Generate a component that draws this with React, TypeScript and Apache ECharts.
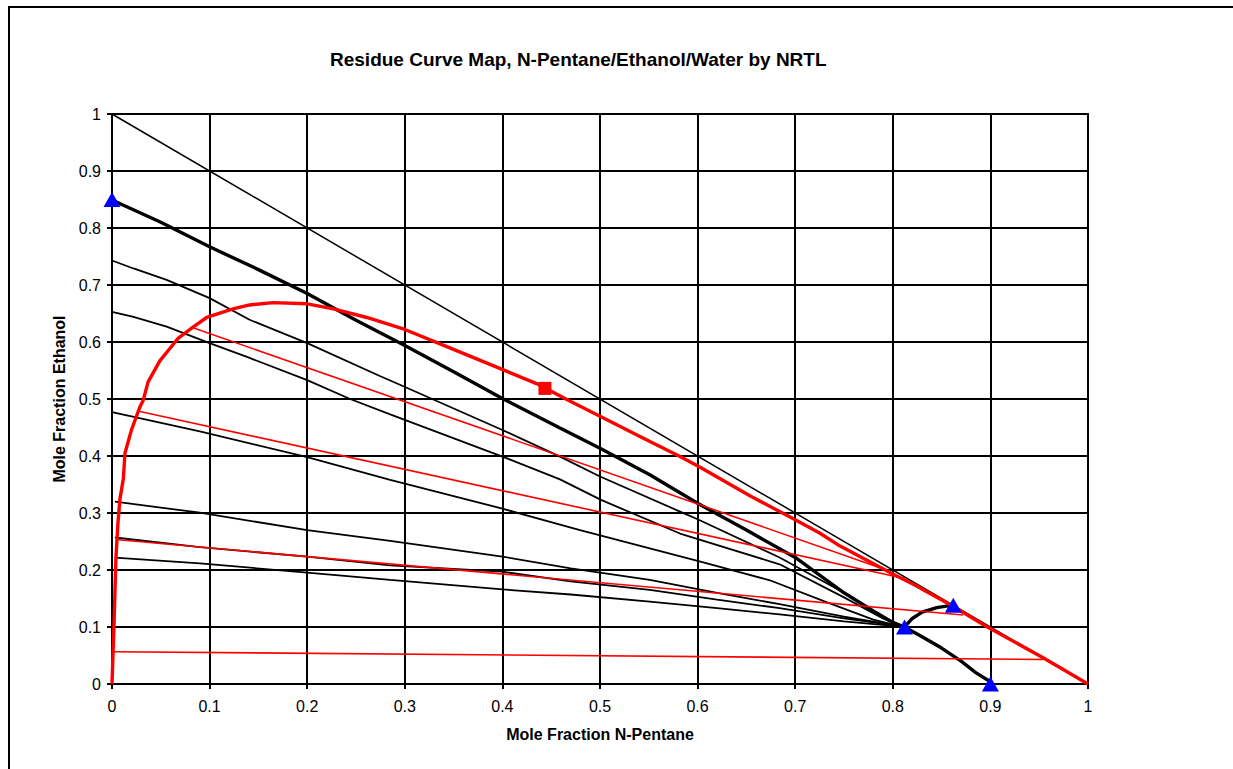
import React, { useEffect, useRef } from "react";
import * as echarts from "echarts";

// ---- Data (mole fractions: x = N-Pentane, y = Ethanol) ----
const triangleEdge: number[][] = [[0, 1], [1, 0]];

const separatrixMain: number[][] = [
  [0, 0.849], [0.05, 0.81], [0.1, 0.767], [0.15, 0.727], [0.2, 0.685], [0.25, 0.638],
  [0.3, 0.594], [0.35, 0.548], [0.4, 0.501], [0.459, 0.449], [0.5, 0.4135], [0.551, 0.367],
  [0.6, 0.317], [0.65, 0.27], [0.7, 0.222], [0.75, 0.16], [0.78, 0.128], [0.8, 0.108],
  [0.812, 0.1], [0.83, 0.083], [0.85, 0.063], [0.87, 0.04], [0.885, 0.02], [0.9, 0.004],
];

const separatrixUpper: number[][] = [
  [0.812, 0.1], [0.82, 0.115], [0.83, 0.126], [0.845, 0.134], [0.86, 0.138],
];

const curveA: number[][] = [
  [0, 0.743], [0.022, 0.729], [0.056, 0.709], [0.1, 0.677], [0.141, 0.639], [0.2, 0.598],
  [0.275, 0.54], [0.295, 0.525], [0.4, 0.4456], [0.459, 0.399], [0.5, 0.364], [0.582, 0.3025],
  [0.6, 0.289], [0.684, 0.222], [0.75, 0.16], [0.79, 0.118], [0.808, 0.102],
];

const curveB: number[][] = [
  [0, 0.653], [0.022, 0.644], [0.056, 0.627], [0.1, 0.598], [0.141, 0.572], [0.2, 0.533],
  [0.244, 0.5], [0.285, 0.473], [0.4, 0.399], [0.459, 0.359], [0.501, 0.323], [0.582, 0.264],
  [0.684, 0.21], [0.75, 0.152], [0.79, 0.115], [0.808, 0.102],
];

const curveC: number[][] = [
  [0, 0.477], [0.09, 0.443], [0.2, 0.398], [0.285, 0.358], [0.4, 0.3076], [0.4795, 0.27],
  [0.551, 0.238], [0.6, 0.216], [0.674, 0.182], [0.73, 0.145], [0.78, 0.113], [0.806, 0.102],
];

const curveD: number[][] = [
  [0.003, 0.32], [0.09, 0.3005], [0.2, 0.27], [0.285, 0.251], [0.4, 0.2234], [0.47, 0.203],
  [0.551, 0.1825], [0.62, 0.16], [0.684, 0.14], [0.75, 0.118], [0.806, 0.102],
];

const curveE: number[][] = [
  [0.003, 0.257], [0.09, 0.24], [0.2, 0.2234], [0.285, 0.208], [0.4, 0.197], [0.47, 0.18],
  [0.551, 0.165], [0.62, 0.148], [0.684, 0.133], [0.75, 0.115], [0.806, 0.102],
];

const curveF: number[][] = [
  [0.003, 0.2216], [0.09, 0.2117], [0.2, 0.1953], [0.285, 0.1825], [0.4, 0.166], [0.47, 0.157],
  [0.551, 0.1445], [0.62, 0.133], [0.684, 0.122], [0.75, 0.11], [0.806, 0.101],
];

const binodal: number[][] = [
  [0, 0], [0.001, 0.05], [0.002, 0.1], [0.003, 0.16], [0.004, 0.22], [0.006, 0.28],
  [0.008, 0.323], [0.0116, 0.36], [0.0133, 0.405], [0.02, 0.446], [0.0287, 0.4865],
  [0.032, 0.498], [0.037, 0.53], [0.049, 0.567], [0.068, 0.607], [0.083, 0.626],
  [0.097, 0.643], [0.124, 0.658], [0.141, 0.665], [0.165, 0.669], [0.2, 0.667],
  [0.227, 0.658], [0.261, 0.643], [0.3, 0.622], [0.343, 0.592], [0.401, 0.551],
  [0.435, 0.527], [0.466, 0.499], [0.501, 0.469], [0.548, 0.428], [0.582, 0.399],
  [0.603, 0.38], [0.654, 0.33], [0.7, 0.288], [0.725, 0.265], [0.746, 0.242],
  [0.8, 0.193], [0.821, 0.175], [0.859, 0.139], [0.896, 0.101], [0.954, 0.046], [1, 0],
];

const tieLine1: number[][] = [[0.083, 0.625], [0.797, 0.198]];
const tieLine2: number[][] = [[0.0287, 0.478], [0.812, 0.185]];
const tieLine3: number[][] = [[0.0065, 0.253], [0.872, 0.121]];
const tieLine4: number[][] = [[0.0014, 0.0567], [0.954, 0.043]];

const azeotropes: number[][] = [[0, 0.85], [0.812, 0.1], [0.862, 0.138], [0.9, 0]];
const plaitPoint: number[][] = [[0.4436, 0.5186]];

const FONT = "'Liberation Sans', Arial, sans-serif";

function lineSeries(data: number[][], color: string, width: number, z = 2) {
  return {
    type: "line",
    data,
    showSymbol: false,
    symbol: "none",
    smooth: false,
    lineStyle: { color, width },
    z,
    silent: true,
  };
}

export default function App() {
  const ref = useRef<HTMLDivElement>(null);

  useEffect(() => {
    if (!ref.current) return;
    const chart = echarts.init(ref.current, undefined, { renderer: "svg" });
    const axisCommon = {
      type: "value",
      min: 0,
      max: 1,
      interval: 0.1,
      axisLine: { show: true, lineStyle: { color: "#000", width: 2 } },
      axisTick: { show: true, length: 5, inside: false, lineStyle: { color: "#000", width: 2 } },
      splitLine: { show: true, lineStyle: { color: "#000", width: 2 } },
      axisLabel: {
        color: "#000",
        fontSize: 16,
        fontFamily: FONT,
        formatter: (v: number) => String(Math.round(v * 10) / 10),
      },
      nameLocation: "middle",
      nameTextStyle: { color: "#000", fontSize: 16, fontWeight: "bold", fontFamily: FONT },
    };
    chart.setOption({
      animation: false,
      backgroundColor: "#fff",
      title: {
        text: "Residue Curve Map, N-Pentane/Ethanol/Water by NRTL",
        left: 325,
        top: 45,
        textStyle: { color: "#000", fontSize: 19, fontWeight: "bold", fontFamily: FONT },
      },
      graphic: [
        {
          type: "rect",
          shape: { x: 9, y: 7, width: 1300, height: 800 },
          style: { fill: "none", stroke: "#000", lineWidth: 2 },
          silent: true,
        },
      ],
      grid: {
        left: 112,
        right: 145,
        top: 114,
        bottom: 85,
        show: true,
        borderColor: "#000",
        borderWidth: 2,
        containLabel: false,
      },
      xAxis: {
        ...axisCommon,
        name: "Mole Fraction N-Pentane",
        nameGap: 42,
        axisLabel: { ...axisCommon.axisLabel, margin: 14 },
      },
      yAxis: {
        ...axisCommon,
        name: "Mole Fraction Ethanol",
        nameGap: 44,
        axisLabel: { ...axisCommon.axisLabel, margin: 11 },
      },
      series: [
        lineSeries(triangleEdge, "#000", 1.5),
        lineSeries(curveA, "#000", 1.8),
        lineSeries(curveB, "#000", 1.8),
        lineSeries(curveC, "#000", 1.8),
        lineSeries(curveD, "#000", 1.8),
        lineSeries(curveE, "#000", 1.8),
        lineSeries(curveF, "#000", 1.8),
        lineSeries(separatrixMain, "#000", 3.4),
        lineSeries(separatrixUpper, "#000", 3.4),
        lineSeries(tieLine1, "#ff0000", 1.6, 3),
        lineSeries(tieLine2, "#ff0000", 1.6, 3),
        lineSeries(tieLine3, "#ff0000", 1.6, 3),
        lineSeries(tieLine4, "#ff0000", 1.6, 3),
        lineSeries(binodal, "#ff0000", 3.4, 4),
        {
          type: "scatter",
          data: azeotropes,
          symbol: "triangle",
          symbolSize: [17, 15],
          itemStyle: { color: "#0000ff", opacity: 1 },
          z: 6,
          silent: true,
        },
        {
          type: "scatter",
          data: plaitPoint,
          symbol: "rect",
          symbolSize: 13,
          itemStyle: { color: "#ff0000", opacity: 1 },
          z: 6,
          silent: true,
        },
      ],
    });
    return () => chart.dispose();
  }, []);

  return (
    <div
      ref={ref}
      style={{ position: "absolute", left: 0, top: 0, width: 1233, height: 769, background: "#fff" }}
    />
  );
}
